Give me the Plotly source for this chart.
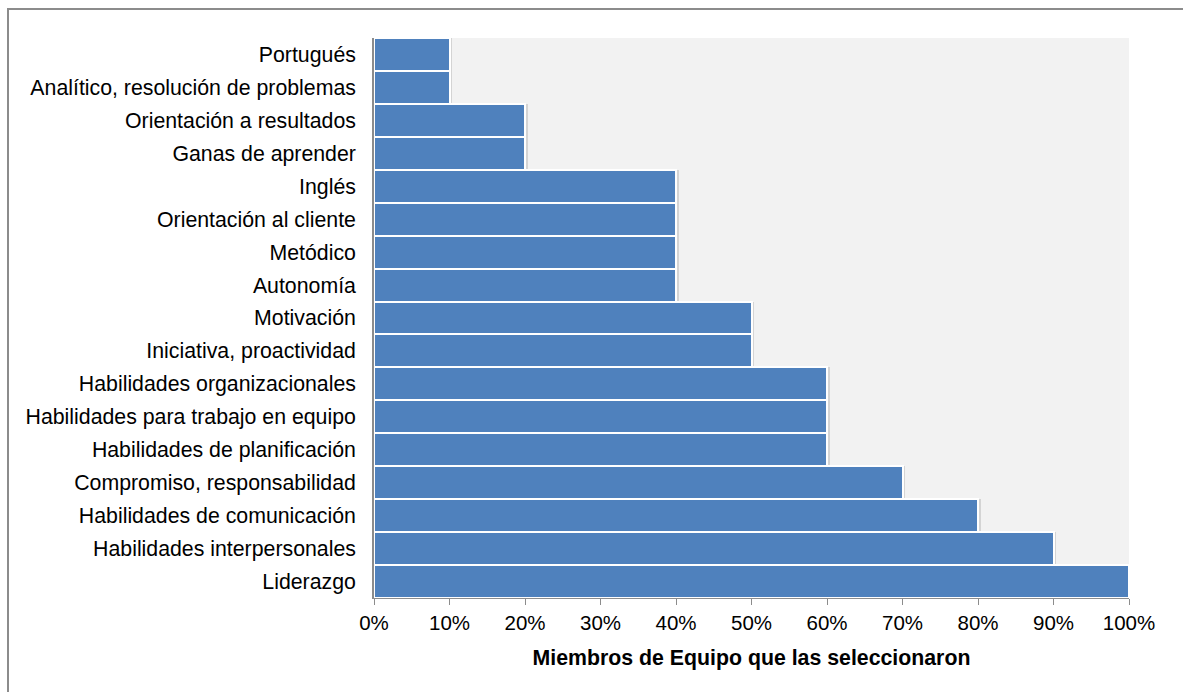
import plotly.graph_objects as go

# Competencias (de arriba hacia abajo) y porcentaje de miembros que las seleccionaron
competencias = [
    "Portugués",
    "Analítico, resolución de problemas",
    "Orientación a resultados",
    "Ganas de aprender",
    "Inglés",
    "Orientación al cliente",
    "Metódico",
    "Autonomía",
    "Motivación",
    "Iniciativa, proactividad",
    "Habilidades organizacionales",
    "Habilidades para trabajo en equipo",
    "Habilidades de planificación",
    "Compromiso, responsabilidad",
    "Habilidades de comunicación",
    "Habilidades interpersonales",
    "Liderazgo",
]
porcentajes = [10, 10, 20, 20, 40, 40, 40, 40, 50, 50, 60, 60, 60, 70, 80, 90, 100]

tick_vals = [0, 10, 20, 30, 40, 50, 60, 70, 80, 90, 100]
tick_text = [f"{v}%" for v in tick_vals]

W, H = 1183, 692
ML, MR, MT, MB = 374, 54, 38, 94

fig = go.Figure()

# leve sombra a la derecha de cada barra
fig.add_trace(go.Bar(
    y=competencias,
    x=[v + 0.35 for v in porcentajes],
    orientation="h",
    marker=dict(color="#d4d4d4", line=dict(width=0)),
    hoverinfo="skip",
    showlegend=False,
))

fig.add_trace(go.Bar(
    y=competencias,
    x=porcentajes,
    orientation="h",
    marker=dict(color="#4f81bd", line=dict(color="white", width=2)),
    showlegend=False,
))

pw = W - ML - MR
ph = H - MT - MB
# marco exterior del gráfico
fig.add_shape(
    type="rect", xref="paper", yref="paper",
    x0=(8 - ML) / pw, x1=(W + 5 - ML) / pw,
    y0=-(H + 5 - MT - ph) / ph, y1=1 + (MT - 9) / ph,
    line=dict(color="#8c8c8c", width=2), fillcolor="rgba(0,0,0,0)",
    layer="below",
)

fig.update_layout(
    width=W, height=H,
    margin=dict(l=ML, r=MR, t=MT, b=MB, pad=0),
    barmode="overlay",
    bargap=0,
    paper_bgcolor="white",
    plot_bgcolor="#f2f2f2",
    font=dict(family="Liberation Sans, Arial, sans-serif", size=21, color="black"),
    xaxis=dict(
        range=[0, 100],
        tickvals=tick_vals,
        ticktext=tick_text,
        showgrid=False,
        zeroline=False,
        showline=True,
        linecolor="#8c8c8c",
        linewidth=1,
        ticks="outside",
        ticklen=6,
        tickcolor="#8c8c8c",
        tickfont=dict(size=20.5),
        title=dict(
            text="<b>Miembros de Equipo que las seleccionaron</b>",
            font=dict(size=21.3),
            standoff=17,
        ),
        fixedrange=True,
    ),
    yaxis=dict(
        categoryorder="array",
        categoryarray=competencias[::-1],
        showgrid=False,
        zeroline=False,
        showline=True,
        linecolor="#8c8c8c",
        linewidth=2,
        ticks="",
        ticksuffix="  ",
        tickfont=dict(size=21.3),
        fixedrange=True,
    ),
)

fig.write_html("out.html")
